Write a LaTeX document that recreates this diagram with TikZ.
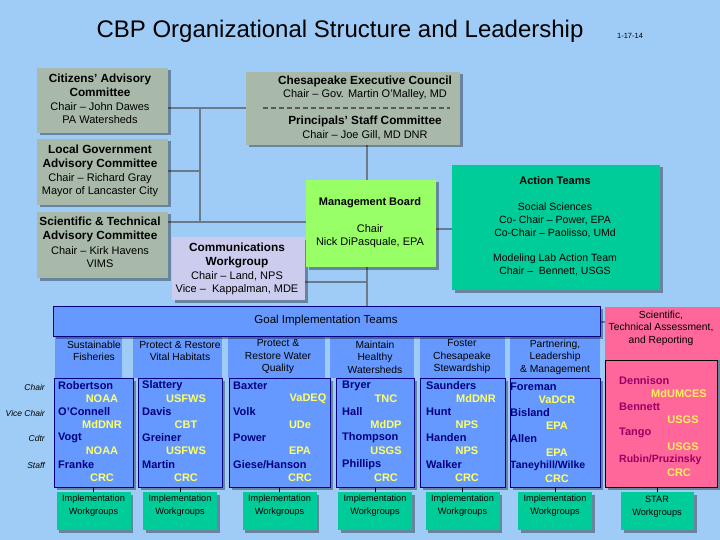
\documentclass[tikz,border=0pt]{standalone}
\usepackage{fontspec}
\setmainfont{Liberation Sans}
\usetikzlibrary{shadows}
\definecolor{bg}{HTML}{9FCBF7}
\definecolor{gbox}{HTML}{A9B9A9}
\definecolor{mgmt}{HTML}{99FF66}
\definecolor{comm}{HTML}{CCCCEE}
\definecolor{teal}{HTML}{00CC99}
\definecolor{bbox}{HTML}{6699FF}
\definecolor{pink}{HTML}{FF6699}
\definecolor{yel}{HTML}{FFFF66}
\definecolor{navy}{HTML}{000080}
\definecolor{plum}{HTML}{990066}
\definecolor{conn}{HTML}{6B7B8B}
\tikzset{
 bx/.style={draw=none, drop shadow={shadow xshift=2.5pt,shadow yshift=-2.5pt,fill=black,opacity=.35}},
 cn/.style={conn, line width=2.5pt},
 tx/.style={font=\fontsize{11}{13}\selectfont, align=center, inner sep=0},
 tb/.style={font=\fontsize{11.8}{14}\selectfont\bfseries, align=center, inner sep=0},
 nm/.style={font=\fontsize{11}{12}\selectfont\bfseries, text=navy, anchor=west, inner sep=0},
 og/.style={font=\fontsize{11}{12}\selectfont\bfseries, text=yel, inner sep=0},
 lab/.style={font=\fontsize{8.5}{9}\selectfont\itshape, anchor=east, inner sep=0},
 wg/.style={font=\fontsize{9.2}{13}\selectfont, align=center, inner sep=0},
 hd/.style={font=\fontsize{10.3}{12.5}\selectfont, align=center, inner sep=0},
}
\newcommand{\rbox}[6]{\fill[#6, bx] (#2,#3) rectangle (#4,#5); \coordinate (#1) at ({(#2+#4)/2},{(#3+#5)/2});}
\newcommand{\ent}[5]{\node[nm] (#1n) at (#2+4,#4) {#3}; \node[og] (#1o) at (#2+48,#4+13) {#5};}
\begin{document}
\begin{tikzpicture}[x=1pt,y=-1pt]
\fill[bg] (0,0) rectangle (720,540);
\useasboundingbox (0,0) rectangle (720,540);
\node[font=\fontsize{24}{26}\selectfont] (title) at (340,31) {CBP Organizational Structure and Leadership};
\node[font=\fontsize{7.5}{8}\selectfont] (date) at (630,36) {1-17-14};
% connectors
\coordinate (jv1) at (200,108); \coordinate (jv2) at (200,171); \coordinate (jv3) at (200,222);
\coordinate (m1) at (367,145); \coordinate (m2) at (367,306); \coordinate (cj) at (367,282);
\draw[cn] (168,108) -- (246,108);
\draw[cn] (jv1) -- (jv3);
\draw[cn] (168,171) -- (jv2);
\draw[cn] (168,222) -- (306,222);
\draw[cn] (m1) -- (367,180);
\draw[cn] (436,229) -- (452,229);
\draw[cn] (367,267) -- (m2);
\draw[cn] (305,282) -- (cj);
\draw[cn] (600,322) -- (605,322);
% top boxes
\rbox{cac}{37}{68}{168}{133}{gbox}
\node[tb] (cact) at (100,85) {Citizens' Advisory\\Committee};
\node[tx] (cacs) at (100,113) {Chair -- John Dawes\\PA Watersheds};
\rbox{lgac}{37}{139}{168}{205}{gbox}
\node[tb] (lgact) at (100,157) {Local Government\\Advisory Committee};
\node[tx] (lgacs) at (100,185) {Chair -- Richard Gray\\Mayor of Lancaster City};
\rbox{stac}{37}{212}{168}{278}{gbox}
\node[tb] (stact) at (100,229) {Scientific \& Technical\\Advisory Committee};
\node[tx] (stacs) at (100,257) {Chair -- Kirk Havens\\VIMS};
\rbox{ec}{246}{72}{460}{145}{gbox}
\node[tb] (ect) at (365,81) {Chesapeake Executive Council};
\node[tx] (ecs) at (365,95) {Chair -- Gov. Martin O'Malley, MD};
\draw[gray!70!black, line width=1.5pt, dash pattern=on 5pt off 3pt] (263,108) -- (450,108);
\node[tb] (psct) at (365,121) {Principals' Staff Committee};
\node[tx] (pscs) at (365,135) {Chair -- Joe Gill, MD DNR};
\rbox{cw}{172}{237}{305}{300}{comm}
\node[tb] (cwt) at (237,255) {Communications\\Workgroup};
\node[tx] (cws) at (237,283) {Chair -- Land, NPS\\Vice --\ \ Kappalman, MDE};
\rbox{mb}{306}{180}{436}{267}{mgmt}
\node[tb, font=\fontsize{11}{13}\selectfont\bfseries] (mbt) at (370,203) {Management Board};
\node[tx] (mbs) at (370,236) {Chair\\Nick DiPasquale, EPA};
\rbox{at}{452}{165}{660}{290}{teal}
\node[tb, font=\fontsize{11}{13}\selectfont\bfseries] (att) at (555,181) {Action Teams};
\node[tx, font=\fontsize{10.5}{13}\selectfont] (ats) at (555,220) {Social Sciences\\Co- Chair -- Power, EPA\\Co-Chair -- Paolisso, UMd};
\node[tx, font=\fontsize{10.5}{13}\selectfont] (atm) at (555,265) {Modeling Lab Action Team\\Chair -- \ Bennett, USGS};
% goal teams
\fill[bbox] (55,336) rectangle (122,378);
\fill[bbox] (133,336) rectangle (222,378);
\fill[bbox] (228,336) rectangle (325,378);
\fill[bbox] (330,336) rectangle (414,378);
\fill[bbox] (420,336) rectangle (505,378);
\fill[bbox] (510,336) rectangle (600,378);
\fill[bbox,bx] (53,306) rectangle (600,336);
\draw[navy] (53,306) rectangle (600,336);
\node[font=\fontsize{11.5}{13}\selectfont, inner sep=0] (git) at (326,321) {Goal Implementation Teams};
\node[hd] (h1) at (94,351) {Sustainable\\Fisheries};
\node[hd] (h2) at (180,351) {Protect \& Restore\\Vital Habitats};
\node[hd] (h3) at (278,357) {Protect \&\\Restore Water\\Quality};
\node[hd] (h4) at (375,357) {Maintain\\Healthy\\Watersheds};
\node[hd] (h5) at (462,357) {Foster\\Chesapeake\\Stewardship};
\node[hd] (h6) at (555,357) {Partnering,\\Leadership\\\& Management};
\node[lab] (l1) at (45,387) {Chair};
\node[lab] (l2) at (45,413) {Vice Chair};
\node[lab] (l3) at (45,438) {Cdtr};
\node[lab] (l4) at (45,465) {Staff};
% data boxes and workgroups
\foreach \i/\a/\b in {1/54/133,2/138/222,3/229/330,4/336/414,5/420/505,6/510/600}{
  \fill[bbox,bx] (\a,378) rectangle (\b,487);
  \draw[navy] (\a,378) rectangle (\b,487);
  \draw[black, line width=0.8pt] ({(\a+\b)/2},487) -- ({(\a+\b)/2},492);
  \fill[teal,bx] ({(\a+\b)/2-37},492) rectangle ({(\a+\b)/2+37},530);
  \node[wg] (w\i) at ({(\a+\b)/2},506) {Implementation\\Workgroups};
}
\ent{a1}{54}{Robertson}{386}{NOAA} \ent{a2}{54}{O'Connell}{412}{MdDNR} \ent{a3}{54}{Vogt}{438}{NOAA} \ent{a4}{54}{Franke}{465}{CRC}
\ent{b1}{138}{Slattery}{386}{USFWS} \ent{b2}{138}{Davis}{412}{CBT} \ent{b3}{138}{Greiner}{438}{USFWS} \ent{b4}{138}{Martin}{465}{CRC}
\node[nm] (c1n) at (233,386) {Baxter}; \node[og] (c1o) at (308,399) {VaDEQ};
\node[nm] (c2n) at (233,412) {Volk}; \node[og] (c2o) at (300,425) {UDe};
\node[nm] (c3n) at (233,438) {Power}; \node[og] (c3o) at (300,451) {EPA};
\node[nm] (c4n) at (233,465) {Giese/Hanson}; \node[og] (c4o) at (300,478) {CRC};
\ent{d1}{338}{Bryer}{386}{TNC} \ent{d2}{338}{Hall}{412}{MdDP} \ent{d3}{338}{Thompson}{438}{USGS} \ent{d4}{338}{Phillips}{465}{CRC}
\node[nm] (e1n) at (426,386) {Saunders}; \node[og] (e1o) at (476,399) {MdDNR};
\node[nm] (e2n) at (426,412) {Hunt}; \node[og] (e2o) at (467,425) {NPS};
\node[nm] (e3n) at (426,438) {Handen}; \node[og] (e3o) at (467,451) {NPS};
\node[nm] (e4n) at (426,465) {Walker}; \node[og] (e4o) at (467,478) {CRC};
\node[nm] (f1n) at (510,387) {Foreman}; \node[og] (f1o) at (557,400) {VaDCR};
\node[nm] (f2n) at (510,413) {Bisland}; \node[og] (f2o) at (557,426) {EPA};
\node[nm] (f3n) at (510,439) {Allen}; \node[og] (f3o) at (557,453) {EPA};
\node[nm,font=\fontsize{10.5}{12}\selectfont\bfseries] (f4n) at (510,466) {Taneyhill/Wilke}; \node[og] (f4o) at (557,479) {CRC};
% pink
\fill[pink,bx] (605,307) rectangle (720,360);
\node[hd] (pt) at (661,328) {Scientific,\\Technical Assessment,\\and Reporting};
\fill[pink,bx] (605,360) rectangle (717,487);
\draw[black] (605,360) rectangle (717,487);
\draw[black, line width=0.8pt] (657,487) -- (657,492);
\fill[teal,bx] (621,492) rectangle (694,530);
\node[wg] (star) at (657,507) {STAR\\Workgroups};
\node[nm,text=plum] (p1n) at (619,381) {Dennison}; \node[og,text=yel!90!orange] (p1o) at (679,394) {MdUMCES};
\node[nm,text=plum] (p2n) at (619,407) {Bennett}; \node[og,text=yel!90!orange] (p2o) at (683,420) {USGS};
\node[nm,text=plum] (p3n) at (619,433) {Tango}; \node[og,text=yel!90!orange] (p3o) at (683,447) {USGS};
\node[nm,text=plum,font=\fontsize{10.5}{12}\selectfont\bfseries] (p4n) at (619,460) {Rubin/Pruzinsky}; \node[og,text=yel!90!orange] (p4o) at (679,473) {CRC};
\end{tikzpicture}
\end{document}
